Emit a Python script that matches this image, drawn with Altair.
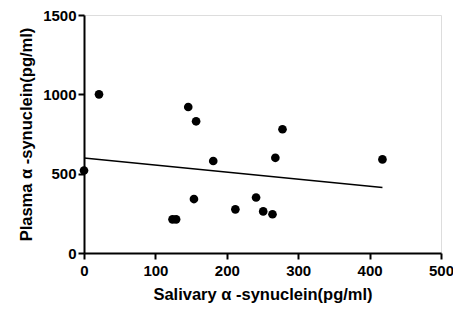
import altair as alt
import pandas as pd

salivary = [0, 21, 146, 157, 181, 154, 124, 129, 212, 241, 251, 264, 268, 278, 418]
plasma = [520, 1000, 920, 830, 580, 340, 212, 212, 275, 350, 262, 244, 600, 780, 590]

x_ticks = [0, 100, 200, 300, 400, 500]
y_ticks = [0, 500, 1000, 1500]

df = pd.DataFrame({"salivary": salivary, "plasma": plasma})

FONT = "Liberation Sans"

x_enc = alt.X(
    "salivary:Q",
    scale=alt.Scale(domain=[0, 500], nice=False, zero=True),
    axis=alt.Axis(
        values=x_ticks,
        format="d",
        title="Salivary α -synuclein(pg/ml)",
        grid=False,
        domainColor="black",
        domainWidth=2,
        tickColor="black",
        tickWidth=2,
        tickSize=6,
        labelFont=FONT,
        labelFontSize=15,
        labelFontWeight="bold",
        labelColor="black",
        labelPadding=4,
        labelFlush=False,
        titleFont=FONT,
        titleFontSize=16.5,
        titleFontWeight="bold",
        titleColor="black",
        titlePadding=8,
    ),
)
y_enc = alt.Y(
    "plasma:Q",
    scale=alt.Scale(domain=[0, 1500], nice=False, zero=True),
    axis=alt.Axis(
        values=y_ticks,
        format="d",
        title="Plasma α -synuclein(pg/ml)",
        grid=False,
        domainColor="black",
        domainWidth=2,
        tickColor="black",
        tickWidth=2,
        tickSize=6,
        labelFont=FONT,
        labelFontSize=15,
        labelFontWeight="bold",
        labelColor="black",
        labelPadding=2,
        labelFlush=False,
        titleFont=FONT,
        titleFontSize=16.5,
        titleFontWeight="bold",
        titleColor="black",
        titlePadding=8,
    ),
)

points = alt.Chart(df).mark_circle(size=75, color="black", opacity=1, clip=False).encode(
    x=x_enc, y=y_enc
)

line = (
    alt.Chart(df)
    .transform_regression("salivary", "plasma")
    .mark_line(color="black", strokeWidth=1.5)
    .encode(x="salivary:Q", y="plasma:Q")
)

chart = (
    alt.layer(points, line)
    .properties(
        width=357,
        height=238,
        autosize=alt.AutoSizeParams(type="none"),
        padding={"left": 76, "top": 7, "right": 12, "bottom": 56},
    )
    .configure_view(stroke=None)
    .configure(background="white")
)

chart.save("out.html", embed_options={"renderer": "svg", "actions": False})
